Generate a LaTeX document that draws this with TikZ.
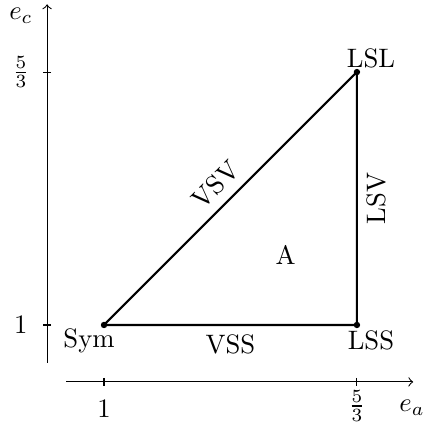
\documentclass[tikz,border=0pt]{standalone}
\begin{document}
\begin{tikzpicture}[x=5cm,y=5cm, dot/.style={circle, fill, inner sep=0pt, minimum size=2.4pt}]
\useasboundingbox (0.7259,0.739) rectangle (1.8487,1.8566);
\coordinate (xs) at (0.9,0.85);
\coordinate (xe) at (1.815,0.85);
\coordinate (ys) at (0.85,0.9);
\coordinate (ye) at (0.85,1.845);
\coordinate (xone) at (1,0.85);
\coordinate (xfive) at (5/3,0.85);
\coordinate (yone) at (0.85,1);
\coordinate (yfive) at (0.85,5/3);
\draw[->] (xs) -- (xe);
\draw[->] (ys) -- (ye);
\draw ([yshift=1.5pt]xone) -- ([yshift=-1.5pt]xone);
\draw ([yshift=1.5pt]xfive) -- ([yshift=-1.5pt]xfive);
\draw ([xshift=1.5pt]yone) -- ([xshift=-1.5pt]yone);
\draw ([xshift=1.5pt]yfive) -- ([xshift=-1.5pt]yfive);
\node (ea) at (1.812,0.7826) {$e_a$};
\node (ec) at (0.781,1.8144) {$e_c$};
\node (lxone) at (1,0.7799) {$1$};
\node (lxfive) at (5/3,0.7865) {$\frac{5}{3}$};
\node (lyone) at (0.781,1) {$1$};
\node (lyfive) at (0.781,5/3) {$\frac{5}{3}$};
\node[dot] (sym) at (1,1) {};
\node[dot] (lss) at (5/3,1) {};
\node[dot] (lsl) at (5/3,5/3) {};
\draw[thick] (sym.center) -- (lss.center) -- (lsl.center) -- (sym.center);
\node[anchor=base] (tsym) at (0.9605,0.9394) {Sym};
\node[anchor=base] (tlss) at (1.7037,0.9341) {LSS};
\node[anchor=base] (tlsl) at (1.7037,1.6774) {LSL};
\node[anchor=base] (vss) at (4/3,0.926) {VSS};
\node[rotate=90] (lsv) at (1.717,4/3) {LSV};
\node[rotate=45] (vsv) at (1.2939,1.3703) {VSV};
\node (a) at (1.4784,1.1858) {A};
\end{tikzpicture}
\end{document}
